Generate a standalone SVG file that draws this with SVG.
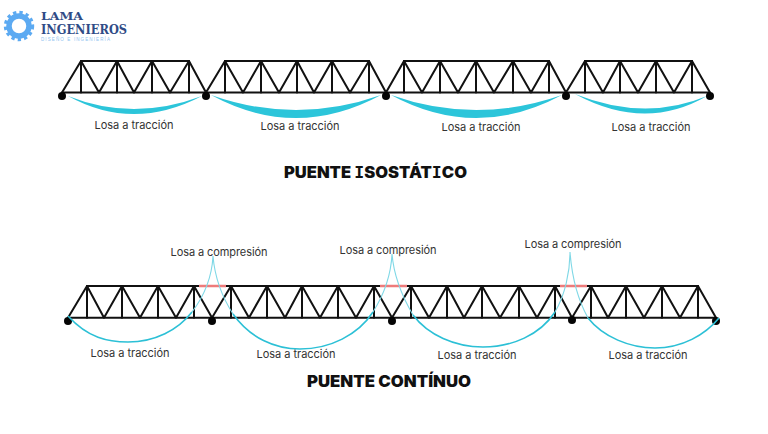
<svg xmlns="http://www.w3.org/2000/svg" width="768" height="434" viewBox="0 0 768 434">
<style>
.t{fill:none;stroke:#111;stroke-width:2;stroke-linecap:round;stroke-linejoin:round}
.c{fill:none;stroke:#2cc0d6;stroke-width:1.600}
.p{fill:none;stroke:#7fd8e6;stroke-width:1.100}
.f{fill:#2cc5da}
.s{fill:#050505}
.l{font-family:"Inter","Liberation Sans",sans-serif;font-size:11px;fill:#333}
.h{font-family:"Inter","Liberation Sans",sans-serif;font-size:16px;font-weight:900;fill:#111}
.i{font-family:"DejaVu Sans Mono",monospace;font-weight:700}
.b{font-family:"DejaVu Serif","Liberation Serif",serif;font-weight:700;fill:#2f4b86}
</style>
<rect width="768" height="434" fill="#fff"/>
<g id="logo">
<circle cx="19" cy="26" r="10" fill="none" stroke="#5caaf2" stroke-width="5.500"/>
<circle cx="19" cy="26" r="13.500" fill="none" stroke="#5caaf2" stroke-width="3.400" stroke-dasharray="3.300 3.060"/>
<text class="b" x="41" y="20" font-size="11.500" textLength="42" lengthAdjust="spacingAndGlyphs">LAMA</text>
<text class="b" x="41" y="34" font-size="12" textLength="86" lengthAdjust="spacingAndGlyphs">INGENIEROS</text>
<text x="41" y="41" font-family="'Liberation Sans',sans-serif" font-size="4.500" fill="#8fc3f0" textLength="69">DISEÑO E INGENIERÍA</text>
</g>
<g id="puente-isostatico">
<g id="truss-upper">
<path class="t" d="M62 92.500H710M81 61H189M225 61H369M404 61H549M585 61H692"/>
<path class="t" d="M62 92.500L81 61L99 92.500L117 61L134 92.500L152 61L170 92.500L189 61L206 92.500L225 61L243 92.500L261 61L279 92.500L297 61L314 92.500L332 61L350 92.500L369 61L386 92.500L404 61L422 92.500L440 61L458 92.500L476 61L494 92.500L513 61L531 92.500L549 61L566 92.500L585 61L603 92.500L620 61L638 92.500L656 61L674 92.500L692 61L710 92.500"/>
<path class="t" d="M81 61V92.500M117 61V92.500M152 61V92.500M189 61V92.500M225 61V92.500M261 61V92.500M297 61V92.500M332 61V92.500M369 61V92.500M404 61V92.500M440 61V92.500M476 61V92.500M513 61V92.500M549 61V92.500M585 61V92.500M620 61V92.500M656 61V92.500M692 61V92.500"/>
</g>
<g id="losa-upper">
<path class="f" d="M68 96Q133 132 202 96Q133 122 68 96Z"/>
<path class="f" d="M211 95Q296 141 381 95Q296 125 211 95Z"/>
<path class="f" d="M391 95Q476 141 562 95Q476 125 391 95Z"/>
<path class="f" d="M575 94Q645 132 707 96Q645 122 575 94Z"/>
</g>
<g id="apoyos-upper">
<circle class="s" cx="62" cy="96" r="4"/><circle class="s" cx="206" cy="96" r="4"/><circle class="s" cx="386" cy="96" r="4"/><circle class="s" cx="566" cy="96" r="4"/><circle class="s" cx="710" cy="96" r="4"/>
</g>
<text class="l" x="134" y="129" text-anchor="middle" textLength="79">Losa a tracción</text>
<text class="l" x="300" y="130" text-anchor="middle" textLength="79">Losa a tracción</text>
<text class="l" x="481" y="131" text-anchor="middle" textLength="79">Losa a tracción</text>
<text class="l" x="651" y="131" text-anchor="middle" textLength="79">Losa a tracción</text>
<text class="h" x="375.500" y="178" text-anchor="middle" textLength="183" lengthAdjust="spacingAndGlyphs">PUENTE <tspan class="i">I</tspan>SOSTÁT<tspan class="i">I</tspan>CO</text>
</g>
<g id="puente-continuo">
<g id="truss-lower">
<path class="t" d="M68 317.700H716M87 286H199M226 286H380M407 286H560M587 286H698"/>
<path class="t" d="M68 317.700L87 286L104 317.700L122 286L140 317.700L158 286L176 317.700L194 286L212 317.700L231 286L249 317.700L267 286L285 317.700L302 286L320 317.700L338 286L356 317.700L374 286L392 317.700L411 286L429 317.700L447 286L464 317.700L482 286L500 317.700L519 286L537 317.700L555 286L572 317.700L591 286L608 317.700L626 286L644 317.700L662 286L680 317.700L698 286L716 317.700"/>
<path class="t" d="M87 286V317.700M122 286V317.700M158 286V317.700M194 286V317.700M231 286V317.700M267 286V317.700M302 286V317.700M338 286V317.700M374 286V317.700M411 286V317.700M447 286V317.700M482 286V317.700M519 286V317.700M555 286V317.700M591 286V317.700M626 286V317.700M662 286V317.700M698 286V317.700"/>
<path d="M199 286H226M380 286H407M560 286H587" fill="none" stroke="#ee7b7b" stroke-width="2.400"/>
</g>
<g id="apoyos-lower">
<circle class="s" cx="68" cy="321" r="4"/><circle class="s" cx="212" cy="321" r="4"/><circle class="s" cx="392" cy="321" r="4"/><circle class="s" cx="572" cy="320" r="4"/><circle class="s" cx="716" cy="321" r="4"/>
</g>
<g id="losa-lower">
<path class="c" d="M68 316C88 338 108 342 128 342C155 342 178 330 192 312"/>
<path class="p" d="M192 312C205 295 212 275 213 256C215 280 224 300 233 314"/>
<path class="c" d="M233 314C250 338 275 349 300 349C330 349 358 335 373 312"/>
<path class="p" d="M373 312C385 293 391 275 392 254C394 278 403 298 413 315"/>
<path class="c" d="M413 315C428 335 455 347 483 347C512 347 540 335 555 312"/>
<path class="p" d="M555 312C565 295 570 272 570 252C572 278 578 300 588 318"/>
<path class="c" d="M588 318C603 337 630 348 655 348C682 348 705 335 719 318"/>
</g>
<text class="l" x="130" y="357" text-anchor="middle" textLength="79">Losa a tracción</text>
<text class="l" x="296" y="358" text-anchor="middle" textLength="79">Losa a tracción</text>
<text class="l" x="477" y="359" text-anchor="middle" textLength="79">Losa a tracción</text>
<text class="l" x="648" y="359" text-anchor="middle" textLength="79">Losa a tracción</text>
<text class="l" x="219" y="256" text-anchor="middle" textLength="97">Losa a compresión</text>
<text class="l" x="388" y="254" text-anchor="middle" textLength="97">Losa a compresión</text>
<text class="l" x="573" y="248" text-anchor="middle" textLength="97">Losa a compresión</text>
<text class="h" x="389" y="387" text-anchor="middle" textLength="164" lengthAdjust="spacingAndGlyphs">PUENTE CONTÍNUO</text>
</g>
</svg>
